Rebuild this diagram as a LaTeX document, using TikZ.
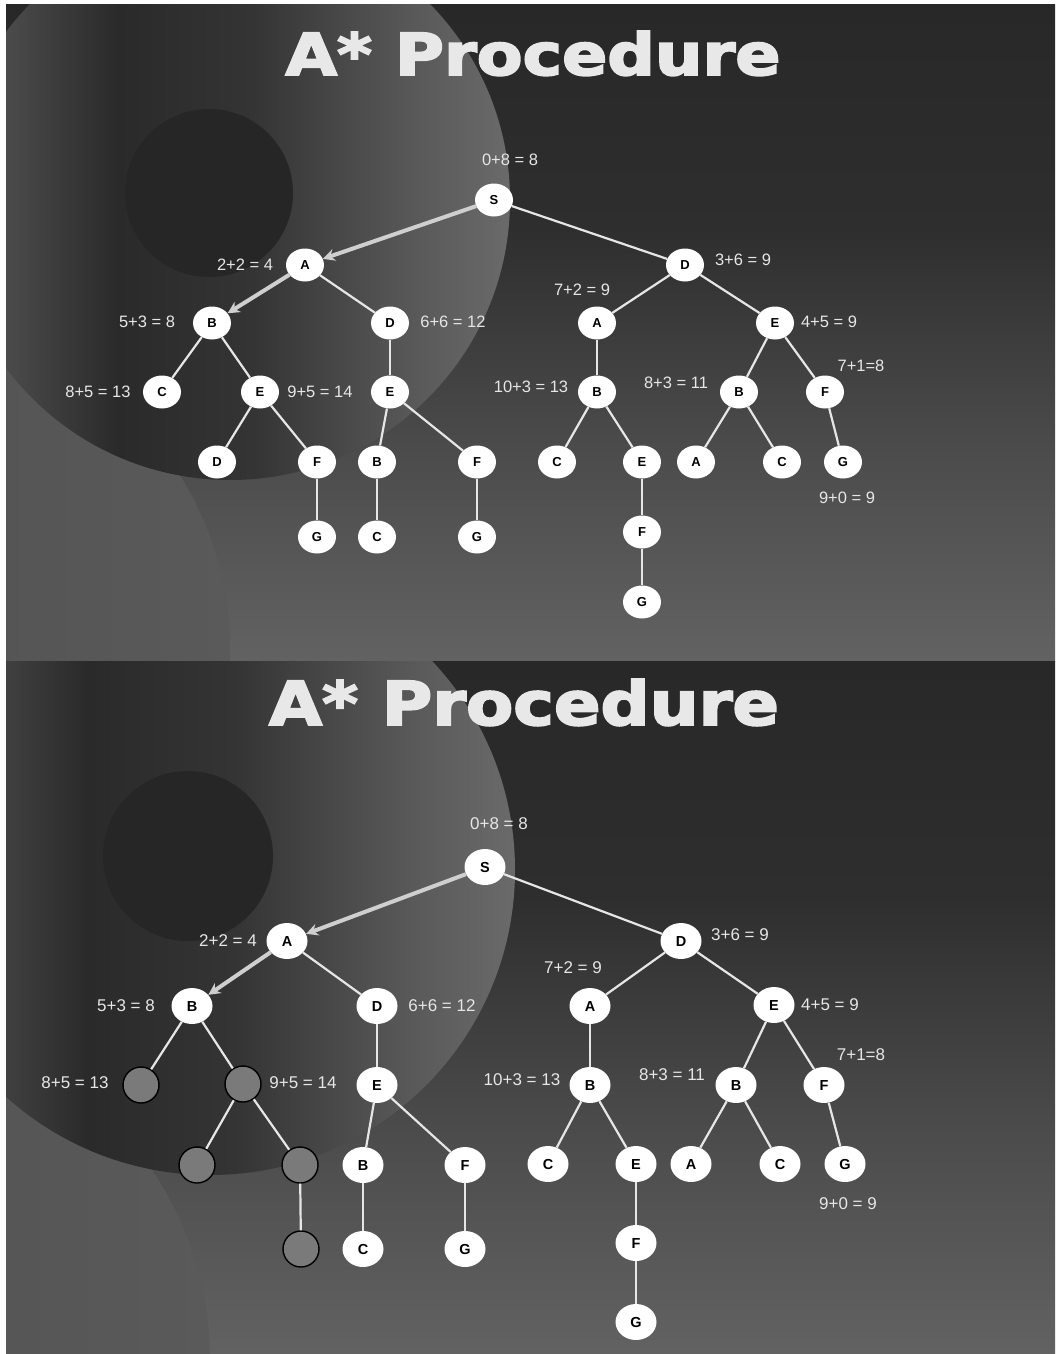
\documentclass[tikz,border=0pt]{standalone}
\usepackage{fontspec}
\setmainfont{Liberation Sans}
\newfontfamily\titlefont{DejaVu Sans Bold}[RawFeature={embolden=3}]
\usetikzlibrary{shapes.geometric,arrows.meta}
\definecolor{bgA}{HTML}{626262}
\definecolor{bgB}{HTML}{4A4A4A}
\definecolor{bgC}{HTML}{2E2E2E}
\definecolor{bgD}{HTML}{282828}
\definecolor{dkA}{HTML}{5C5C5C}
\definecolor{dkB}{HTML}{3A3A3A}
\definecolor{dkC}{HTML}{2A2A2A}
\definecolor{dkD}{HTML}{343434}
\definecolor{dkE}{HTML}{5A5A5A}
\definecolor{dkF}{HTML}{6A6A6A}
\definecolor{lcA}{HTML}{4C4C4C}
\definecolor{lcB}{HTML}{5A5A5A}
\definecolor{innercol}{HTML}{262626}
\definecolor{lblcol}{HTML}{E6E6E6}
\definecolor{conncol}{HTML}{E6E6E6}
\definecolor{hlcol}{HTML}{CFCFCF}
\definecolor{titlecol}{HTML}{E8E8E8}
\definecolor{nodegray}{HTML}{7A7A7A}
\pgfdeclareverticalshading{slideshade}{100bp}{color(0bp)=(bgA); color(25bp)=(bgA); color(42bp)=(bgB); color(58bp)=(bgC); color(75bp)=(bgD); color(100bp)=(bgD)}
\pgfdeclarehorizontalshading{diskshade}{100bp}{color(0bp)=(dkA); color(25bp)=(dkA); color(35bp)=(dkB); color(40bp)=(dkC); color(52bp)=(dkD); color(67bp)=(dkE); color(75bp)=(dkF); color(100bp)=(dkF)}
\pgfdeclarehorizontalshading{leftshade}{100bp}{color(0bp)=(lcA); color(25bp)=(lcA); color(75bp)=(lcB); color(100bp)=(lcB)}
\tikzset{
  nd/.style={ellipse, fill=white, minimum width=38pt, minimum height=33pt, inner sep=0pt, text=black, font=\bfseries\fontsize{13}{13}\selectfont},
  ndb/.style={nd, minimum width=41pt, minimum height=36pt, font=\bfseries\fontsize{14.5}{14.5}\selectfont},
  gnd/.style={circle, fill=nodegray, draw=black, line width=1.4pt, minimum size=36pt, inner sep=0pt},
  lbl/.style={text=lblcol, inner sep=0pt, font=\fontsize{16.5}{16.5}\selectfont},
  lblb/.style={lbl, font=\fontsize{17}{17}\selectfont},
  conn/.style={draw=conncol, line width=2.2pt},
  hl/.style={draw=hlcol, line width=4pt, -{Stealth[length=12pt,width=12pt,inset=4pt]}},
  ttl/.style={text=titlecol, anchor=base, inner sep=0pt}
}
\begin{document}
\begin{tikzpicture}[x=1pt,y=-1pt]
\useasboundingbox (0,0) rectangle (1055,1354);
\fill[white] (0,0) rectangle (1055,1354);
% ---------- slide 1 background ----------
\begin{scope}
\clip (6,5) rectangle (1055,661);
\shade[shading=slideshade] (6,5) rectangle (1055,661);
\shade[shading=leftshade] (-100,650) circle[radius=330];
\shade[shading=diskshade] (230,200) circle[radius=280];
\fill[innercol] (209,193) circle[radius=84];
\end{scope}
% ---------- slide 2 background ----------
\begin{scope}
\clip (6,661) rectangle (1055,1354);
\shade[shading=slideshade] (6,661) rectangle (1055,1354);
\shade[shading=leftshade] (-130,1360) circle[radius=340];
\shade[shading=diskshade] (210,870) circle[radius=305];
\fill[innercol] (188,856) circle[radius=85];
\end{scope}
% ---------- titles ----------
\node[ttl] (t1) at (533,75) {\resizebox{495pt}{44pt}{\titlefont A* Procedure}};
\node[ttl] (t2) at (524,725) {\resizebox{510pt}{46pt}{\titlefont A* Procedure}};
% ---------- slide 1 tree ----------
\node[nd] (tS) at (494,200) {S};
\node[nd] (tA) at (305,265) {A};
\node[nd] (tD) at (685,265) {D};
\node[nd] (tB) at (212,323) {B};
\node[nd] (tD2) at (390,323) {D};
\node[nd] (tA2) at (597,323) {A};
\node[nd] (tE) at (775,323) {E};
\node[nd] (tC) at (162,392) {C};
\node[nd] (tE2) at (260,392) {E};
\node[nd] (tE3) at (390,392) {E};
\node[nd] (tB2) at (597,392) {B};
\node[nd] (tB3) at (739,392) {B};
\node[nd] (tF) at (825,392) {F};
\node[nd] (tD3) at (217,462) {D};
\node[nd] (tF2) at (317,462) {F};
\node[nd] (tB4) at (377,462) {B};
\node[nd] (tF3) at (477,462) {F};
\node[nd] (tC2) at (557,462) {C};
\node[nd] (tE4) at (642,462) {E};
\node[nd] (tA3) at (696,462) {A};
\node[nd] (tC3) at (782,462) {C};
\node[nd] (tG) at (843,462) {G};
\node[nd] (tG2) at (317,537) {G};
\node[nd] (tC4) at (377,537) {C};
\node[nd] (tG3) at (477,537) {G};
\node[nd] (tF4) at (642,532) {F};
\node[nd] (tG4) at (642,602) {G};
\draw[conn] (tS) -- (tD);
\draw[conn] (tA) -- (tD2);
\draw[conn] (tB) -- (tC);
\draw[conn] (tB) -- (tE2);
\draw[conn] (tD2) -- (tE3);
\draw[conn] (tE2) -- (tD3);
\draw[conn] (tE2) -- (tF2);
\draw[conn] (tF2) -- (tG2);
\draw[conn] (tE3) -- (tB4);
\draw[conn] (tE3) -- (tF3);
\draw[conn] (tB4) -- (tC4);
\draw[conn] (tF3) -- (tG3);
\draw[conn] (tD) -- (tA2);
\draw[conn] (tD) -- (tE);
\draw[conn] (tA2) -- (tB2);
\draw[conn] (tB2) -- (tC2);
\draw[conn] (tB2) -- (tE4);
\draw[conn] (tE4) -- (tF4);
\draw[conn] (tF4) -- (tG4);
\draw[conn] (tE) -- (tB3);
\draw[conn] (tE) -- (tF);
\draw[conn] (tB3) -- (tA3);
\draw[conn] (tB3) -- (tC3);
\draw[conn] (tF) -- (tG);
\draw[hl] (tS) -- (tA);
\draw[hl] (tA) -- (tB);
\node[lbl] (tl1) at (510,160) {0+8 = 8};
\node[lbl] (tl2) at (245,265) {2+2 = 4};
\node[lbl] (tl3) at (743,260) {3+6 = 9};
\node[lbl] (tl4) at (147,322) {5+3 = 8};
\node[lbl] (tl5) at (453,322) {6+6 = 12};
\node[lbl] (tl6) at (582,290) {7+2 = 9};
\node[lbl] (tl7) at (829,322) {4+5 = 9};
\node[lbl] (tl8) at (98,392) {8+5 = 13};
\node[lbl] (tl9) at (320,392) {9+5 = 14};
\node[lbl] (tl10) at (531,387) {10+3 = 13};
\node[lbl] (tl11) at (676,383) {8+3 = 11};
\node[lbl] (tl12) at (861,366) {7+1=8};
\node[lbl] (tl13) at (847,498) {9+0 = 9};
% ---------- slide 2 tree ----------
\node[ndb] (bS) at (485,867) {S};
\node[ndb] (bA) at (287,941) {A};
\node[ndb] (bD) at (681,941) {D};
\node[ndb] (bB) at (192,1006) {B};
\node[ndb] (bD2) at (377,1006) {D};
\node[ndb] (bA2) at (590,1006) {A};
\node[ndb] (bE) at (774,1005) {E};
\node[gnd] (bC) at (141,1085) {};
\node[gnd] (bE2) at (243,1084) {};
\node[ndb] (bE3) at (377,1085) {E};
\node[ndb] (bB2) at (590,1085) {B};
\node[ndb] (bB3) at (736,1085) {B};
\node[ndb] (bF) at (824,1085) {F};
\node[gnd] (bD3) at (197,1165) {};
\node[gnd] (bF2) at (300,1165) {};
\node[ndb] (bB4) at (363,1165) {B};
\node[ndb] (bF3) at (465,1165) {F};
\node[ndb] (bC2) at (548,1164) {C};
\node[ndb] (bE4) at (636,1164) {E};
\node[ndb] (bA3) at (691,1164) {A};
\node[ndb] (bC3) at (780,1164) {C};
\node[ndb] (bG) at (845,1164) {G};
\node[gnd] (bG2) at (301,1249) {};
\node[ndb] (bC4) at (363,1249) {C};
\node[ndb] (bG3) at (465,1249) {G};
\node[ndb] (bF4) at (636,1243) {F};
\node[ndb] (bG4) at (636,1322) {G};
\draw[conn] (bS) -- (bD);
\draw[conn] (bA) -- (bD2);
\draw[conn] (bB) -- (bC);
\draw[conn] (bB) -- (bE2);
\draw[conn] (bD2) -- (bE3);
\draw[conn] (bE2) -- (bD3);
\draw[conn] (bE2) -- (bF2);
\draw[conn] (bF2) -- (bG2);
\draw[conn] (bE3) -- (bB4);
\draw[conn] (bE3) -- (bF3);
\draw[conn] (bB4) -- (bC4);
\draw[conn] (bF3) -- (bG3);
\draw[conn] (bD) -- (bA2);
\draw[conn] (bD) -- (bE);
\draw[conn] (bA2) -- (bB2);
\draw[conn] (bB2) -- (bC2);
\draw[conn] (bB2) -- (bE4);
\draw[conn] (bE4) -- (bF4);
\draw[conn] (bF4) -- (bG4);
\draw[conn] (bE) -- (bB3);
\draw[conn] (bE) -- (bF);
\draw[conn] (bB3) -- (bA3);
\draw[conn] (bB3) -- (bC3);
\draw[conn] (bF) -- (bG);
\draw[hl] (bS) -- (bA);
\draw[hl] (bA) -- (bB);
\node[lblb] (bl1) at (499,824) {0+8 = 8};
\node[lblb] (bl2) at (228,941) {2+2 = 4};
\node[lblb] (bl3) at (740,935) {3+6 = 9};
\node[lblb] (bl4) at (126,1006) {5+3 = 8};
\node[lblb] (bl5) at (442,1006) {6+6 = 12};
\node[lblb] (bl6) at (573,968) {7+2 = 9};
\node[lblb] (bl7) at (830,1005) {4+5 = 9};
\node[lblb] (bl8) at (75,1083) {8+5 = 13};
\node[lblb] (bl9) at (303,1083) {9+5 = 14};
\node[lblb] (bl10) at (522,1080) {10+3 = 13};
\node[lblb] (bl11) at (672,1075) {8+3 = 11};
\node[lblb] (bl12) at (861,1055) {7+1=8};
\node[lblb] (bl13) at (848,1204) {9+0 = 9};
\end{tikzpicture}
\end{document}
